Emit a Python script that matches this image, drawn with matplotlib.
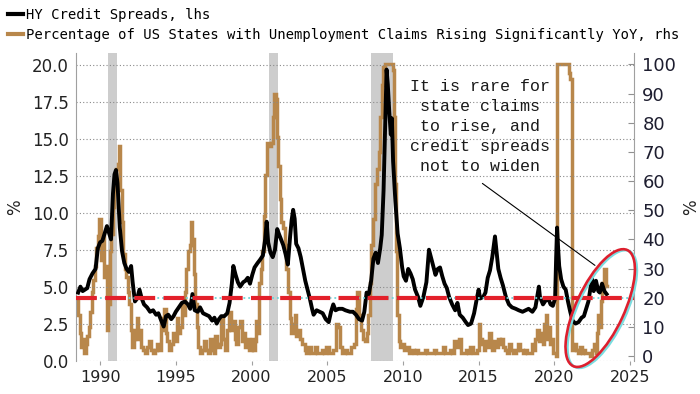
import matplotlib
matplotlib.use("Agg")
import matplotlib.pyplot as plt
import matplotlib.transforms as mtransforms
from matplotlib.patches import Ellipse
from matplotlib.ticker import FormatStrFormatter

# ---------------- data ----------------
hy_years = [1988.55, 1988.7, 1988.85, 1989.0, 1989.15, 1989.3, 1989.5, 1989.7, 1989.85, 1990.0,
            1990.15, 1990.3, 1990.45, 1990.6, 1990.72, 1990.85, 1990.95, 1991.05, 1991.15, 1991.3,
            1991.45, 1991.6, 1991.75, 1991.9, 1992.05, 1992.15, 1992.3, 1992.45, 1992.6, 1992.75,
            1992.9, 1993.1, 1993.3, 1993.5, 1993.7, 1993.85, 1994.0, 1994.2, 1994.35, 1994.5,
            1994.7, 1994.85, 1995.0, 1995.2, 1995.4, 1995.6, 1995.8, 1995.95, 1996.1, 1996.25,
            1996.45, 1996.6, 1996.8, 1997.0, 1997.2, 1997.4, 1997.55, 1997.7, 1997.85, 1998.0,
            1998.2, 1998.4, 1998.55, 1998.7, 1998.8, 1998.95, 1999.1, 1999.25, 1999.45, 1999.6,
            1999.75, 1999.9, 2000.05, 2000.2, 2000.4, 2000.55, 2000.75, 2000.9, 2001.0, 2001.1,
            2001.25, 2001.4, 2001.55, 2001.7, 2001.8, 2001.95, 2002.1, 2002.25, 2002.4, 2002.55,
            2002.65, 2002.75, 2002.85, 2002.95, 2003.1, 2003.25, 2003.4, 2003.55, 2003.7, 2003.85,
            2004.0, 2004.1, 2004.3, 2004.5, 2004.7, 2004.9, 2005.1, 2005.25, 2005.4, 2005.55,
            2005.75, 2006.0, 2006.2, 2006.5, 2006.7, 2006.9, 2007.1, 2007.3, 2007.45, 2007.6,
            2007.75, 2007.9, 2008.05, 2008.2, 2008.35, 2008.5, 2008.6, 2008.72, 2008.82, 2008.92,
            2009.0, 2009.1, 2009.2, 2009.27, 2009.35, 2009.5, 2009.65, 2009.8, 2009.95, 2010.05,
            2010.2, 2010.35, 2010.5, 2010.65, 2010.8, 2011.0, 2011.15, 2011.35, 2011.55, 2011.72,
            2011.85, 2012.0, 2012.15, 2012.3, 2012.45, 2012.6, 2012.75, 2012.9, 2013.05, 2013.25,
            2013.45, 2013.6, 2013.75, 2013.95, 2014.15, 2014.3, 2014.5, 2014.7, 2014.9, 2015.0,
            2015.1, 2015.3, 2015.45, 2015.6, 2015.75, 2015.9, 2016.0, 2016.08, 2016.17, 2016.3,
            2016.45, 2016.6, 2016.8, 2017.0, 2017.2, 2017.45, 2017.65, 2017.9, 2018.1, 2018.3,
            2018.55, 2018.75, 2018.9, 2018.98, 2019.05, 2019.25, 2019.45, 2019.6, 2019.75, 2019.9,
            2020.05, 2020.12, 2020.18, 2020.25, 2020.32, 2020.45, 2020.6, 2020.75, 2020.9, 2021.05,
            2021.2, 2021.4, 2021.6, 2021.8, 2021.95, 2022.1, 2022.25, 2022.4, 2022.5, 2022.6,
            2022.75, 2022.9, 2023.0, 2023.15, 2023.3, 2023.45]
hy_vals = [4.6, 5.0, 4.7, 4.8, 4.9, 5.5, 5.9, 6.2, 7.6, 8.0,
           8.1, 8.6, 9.1, 8.6, 8.2, 11.3, 12.6, 12.9, 12.0, 9.0,
           7.4, 6.6, 6.2, 6.0, 6.4, 5.3, 4.0, 4.2, 4.8, 4.2,
           3.8, 3.6, 3.3, 3.4, 3.1, 3.2, 2.8, 2.3, 3.0, 3.1,
           2.8, 3.0, 3.3, 3.6, 3.9, 4.0, 3.8, 3.5, 4.5, 3.4,
           3.3, 3.6, 3.2, 3.1, 3.0, 2.7, 2.9, 2.5, 2.8, 3.0,
           3.0, 3.2, 3.9, 5.2, 6.4, 5.8, 5.3, 5.0, 5.3, 5.4,
           5.6, 5.2, 5.8, 6.3, 6.6, 6.8, 7.1, 8.2, 9.4, 8.0,
           7.3, 7.0, 7.5, 8.9, 8.6, 8.2, 7.8, 7.2, 6.5, 8.4,
           9.5, 10.2, 9.6, 7.9, 7.6, 7.0, 6.2, 5.4, 4.8, 4.2,
           3.5, 3.1, 3.4, 3.3, 3.2, 2.8, 2.6, 3.3, 3.8, 3.4,
           3.5, 3.5, 3.4, 3.3, 3.3, 3.1, 2.8, 2.7, 3.3, 4.6,
           4.5, 5.4, 6.9, 7.3, 6.6, 7.6, 8.5, 11.5, 15.5, 19.7,
           18.7, 16.8, 15.3, 16.4, 13.5, 10.8, 8.6, 7.6, 6.3, 5.7,
           5.4, 6.2, 5.9, 5.5, 4.8, 4.3, 3.7, 4.3, 5.3, 7.5,
           7.0, 6.4, 5.8, 6.2, 6.3, 5.7, 5.2, 4.9, 4.3, 3.8,
           3.4, 3.9, 3.1, 2.9, 2.6, 2.4, 2.5, 3.2, 4.3, 4.8,
           4.2, 4.3, 4.6, 5.6, 6.1, 7.0, 7.8, 8.4, 7.5, 6.2,
           5.6, 5.1, 4.3, 3.8, 3.6, 3.5, 3.4, 3.3, 3.4, 3.5,
           3.3, 3.6, 4.5, 5.0, 4.3, 3.8, 4.1, 4.2, 3.8, 3.7,
           4.2, 7.0, 9.0, 7.6, 6.4, 5.5, 5.0, 4.8, 4.0, 3.3,
           2.7, 2.5, 2.6, 2.9, 3.0, 3.5, 4.0, 5.0, 5.5, 4.7,
           5.4, 4.7, 4.6, 5.2, 4.7, 4.5]

us_years = [1988.45, 1988.55, 1988.65, 1988.75, 1988.85, 1988.95, 1989.05, 1989.15, 1989.25, 1989.35,
            1989.45, 1989.55, 1989.65, 1989.75, 1989.85, 1989.95, 1990.05, 1990.15, 1990.25, 1990.35,
            1990.45, 1990.55, 1990.65, 1990.75, 1990.85, 1990.95, 1991.05, 1991.15, 1991.25, 1991.33,
            1991.43, 1991.53, 1991.63, 1991.73, 1991.83, 1991.93, 1992.03, 1992.13, 1992.23, 1992.33,
            1992.43, 1992.53, 1992.63, 1992.73, 1992.85, 1992.97, 1993.1, 1993.22, 1993.35, 1993.5,
            1993.62, 1993.75, 1993.87, 1994.0, 1994.1, 1994.2, 1994.32, 1994.42, 1994.55, 1994.7,
            1994.82, 1994.95, 1995.05, 1995.17, 1995.3, 1995.4, 1995.5, 1995.6, 1995.7, 1995.8,
            1995.92, 1996.02, 1996.1, 1996.18, 1996.28, 1996.38, 1996.48, 1996.6, 1996.72, 1996.85,
            1996.97, 1997.1, 1997.25, 1997.37, 1997.5, 1997.62, 1997.75, 1997.9, 1998.0, 1998.12,
            1998.25, 1998.35, 1998.5, 1998.62, 1998.75, 1998.88, 1999.0, 1999.12, 1999.22, 1999.35,
            1999.47, 1999.6, 1999.72, 1999.85, 2000.0, 2000.1, 2000.22, 2000.32, 2000.42, 2000.52,
            2000.62, 2000.72, 2000.82, 2000.92, 2001.02, 2001.15, 2001.27, 2001.4, 2001.5, 2001.6,
            2001.7, 2001.78, 2001.88, 2001.98, 2002.08, 2002.2, 2002.3, 2002.4, 2002.52, 2002.62,
            2002.75, 2002.87, 2002.97, 2003.1, 2003.22, 2003.35, 2003.5, 2003.62, 2003.75, 2003.9,
            2004.05, 2004.2, 2004.35, 2004.5, 2004.65, 2004.8, 2004.95, 2005.1, 2005.25, 2005.4,
            2005.55, 2005.7, 2005.85, 2006.0, 2006.15, 2006.3, 2006.45, 2006.6, 2006.75, 2006.88,
            2006.98, 2007.1, 2007.22, 2007.35, 2007.5, 2007.62, 2007.72, 2007.82, 2007.92, 2008.05,
            2008.15, 2008.28, 2008.4, 2008.5, 2008.6, 2008.7, 2008.8, 2009.32, 2009.4, 2009.48,
            2009.56, 2009.64, 2009.72, 2009.82, 2009.95, 2010.1, 2010.25, 2010.4, 2010.55, 2010.7,
            2010.85, 2011.0, 2011.15, 2011.3, 2011.45, 2011.6, 2011.75, 2011.9, 2012.05, 2012.2,
            2012.35, 2012.5, 2012.65, 2012.8, 2012.95, 2013.1, 2013.25, 2013.4, 2013.55, 2013.7,
            2013.85, 2014.0, 2014.15, 2014.3, 2014.45, 2014.6, 2014.75, 2014.9, 2015.0, 2015.1,
            2015.22, 2015.35, 2015.45, 2015.58, 2015.68, 2015.8, 2015.9, 2016.0, 2016.12, 2016.25,
            2016.38, 2016.5, 2016.62, 2016.75, 2016.88, 2017.0, 2017.15, 2017.3, 2017.45, 2017.6,
            2017.75, 2017.9, 2018.05, 2018.2, 2018.35, 2018.5, 2018.65, 2018.75, 2018.88, 2019.0,
            2019.12, 2019.22, 2019.32, 2019.42, 2019.52, 2019.62, 2019.72, 2019.82, 2019.92, 2020.08,
            2020.18, 2020.95, 2021.05, 2021.18, 2021.3, 2021.42, 2021.55, 2021.68, 2021.8, 2021.92,
            2022.05, 2022.2, 2022.35, 2022.5, 2022.62, 2022.72, 2022.8, 2022.9, 2023.0, 2023.08,
            2023.15, 2023.22, 2023.3, 2023.38, 2023.45]
us_vals = [20, 14, 8, 3, 6, 1, 4, 7, 10, 15,
           22, 26, 31, 37, 41, 47, 33, 42, 27, 31,
           9, 18, 36, 42, 51, 58, 64, 66, 72, 57,
           46, 35, 30, 27, 22, 18, 9, 3, 6, 9,
           13, 6, 9, 3, 2, 1, 3, 5, 2, 1,
           2, 4, 2, 13, 9, 16, 8, 5, 2, 4,
           8, 5, 13, 8, 10, 18, 14, 22, 30, 36,
           38, 46, 40, 28, 18, 10, 3, 1, 2, 5,
           2, 1, 6, 2, 1, 7, 3, 4, 13, 6,
           2, 9, 15, 9, 12, 6, 4, 10, 12, 5,
           8, 3, 6, 2, 6, 2, 5, 12, 8, 25,
           30, 36, 48, 62, 73, 72, 73, 82, 90, 88,
           75, 65, 54, 46, 44, 38, 30, 22, 13, 8,
           11, 14, 7, 9, 6, 4, 2, 1, 3, 1,
           1, 3, 1, 1, 2, 1, 3, 1, 1, 2,
           11, 10, 3, 1, 2, 1, 1, 3, 4, 16,
           22, 14, 9, 6, 5, 8, 14, 25, 38, 47,
           59, 64, 70, 82, 93, 99, 100, 98, 82, 59,
           36, 14, 5, 3, 4, 2, 3, 1, 2, 1,
           2, 1, 1, 1, 2, 1, 1, 1, 2, 1,
           1, 1, 3, 1, 1, 2, 1, 5, 3, 6,
           1, 1, 2, 1, 3, 1, 1, 2, 11, 6,
           4, 2, 5, 3, 8, 4, 2, 5, 3, 6,
           4, 6, 3, 2, 1, 4, 2, 1, 2, 4,
           2, 1, 2, 1, 1, 4, 2, 6, 9, 5,
           8, 4, 11, 14, 6, 10, 4, 6, 1, 0,
           100, 97, 95, 2, 4, 2, 1, 3, 1, 2,
           1, 1, 0, 2, 4, 1, 8, 14, 10, 19,
           25, 22, 30, 24, 24]

recession_starts = [1990.5, 2001.17, 2007.92]
recession_ends = [1991.12, 2001.75, 2009.35]

threshold_lhs = 4.2
left_ticks = [0.0, 2.5, 5.0, 7.5, 10.0, 12.5, 15.0, 17.5, 20.0]
right_ticks = [0, 10, 20, 30, 40, 50, 60, 70, 80, 90, 100]
x_ticks = [1990, 1995, 2000, 2005, 2010, 2015, 2020, 2025]

label_hy = "HY Credit Spreads, lhs"
label_us = "Percentage of US States with Unemployment Claims Rising Significantly YoY, rhs"
note = "It is rare for\nstate claims\nto rise, and\ncredit spreads\nnot to widen"

# ---------------- figure ----------------
W, H, DPI = 7.0, 3.94, 100
fig = plt.figure(figsize=(W, H), dpi=DPI)
fig.patch.set_facecolor("white")

ax = fig.add_axes([0.1086, 0.085, 0.7971, 0.7805])
ax2 = ax.twinx()
ax.set_zorder(ax2.get_zorder() + 1)
ax.patch.set_visible(False)

TAN = "#B8874B"
for s, e in zip(recession_starts, recession_ends):
    ax2.axvspan(s, e, color="#CDCDCD", lw=0, zorder=0)

l_us, = ax2.plot(us_years, us_vals, drawstyle="steps-post", color=TAN, lw=2.5,
                 solid_joinstyle="miter", zorder=2)
l_hy, = ax.plot(hy_years, hy_vals, color="black", lw=2.8, zorder=3,
                solid_joinstyle="round")

# threshold line (cyan underlay + red dashes)
ax.axhline(threshold_lhs, color="#6FD3D8", lw=1.3, ls=":", zorder=4)
ax.axhline(threshold_lhs, color="#E3202A", lw=3.0, dashes=(5, 2), zorder=5)

ax.set_xlim(1988.41, 2025.26)
ax.set_ylim(0, 20.82)
ax2.set_ylim(-1.54, 103.9)

ax.set_yticks(left_ticks)
ax.yaxis.set_major_formatter(FormatStrFormatter("%.1f"))
ax2.set_yticks(right_ticks)
ax.set_xticks(x_ticks)

ax.grid(axis="y", color="#8A8A8A", ls=(0, (1, 2)), lw=0.8)
ax.grid(axis="x", visible=False)

for a in (ax, ax2):
    for sp in ("top", "bottom"):
        a.spines[sp].set_visible(False)
    a.spines["left"].set_color("#A0A0A0")
    a.spines["right"].set_color("#A0A0A0")
ax2.spines["left"].set_visible(False)
ax.spines["right"].set_visible(False)

ax.tick_params(axis="y", length=0, pad=5, labelsize=12, labelcolor="#222222")
ax.tick_params(axis="x", length=3, width=0.8, color="#A0A0A0", pad=4,
               labelsize=11.5, labelcolor="#222222", direction="out")
ax2.tick_params(axis="y", length=4, width=0.8, color="#909090", direction="in",
                pad=6, labelsize=13, labelcolor="#1E1E30")

ax.set_ylabel("%", fontsize=12, color="#222222", labelpad=6)
ax2.set_ylabel("%", fontsize=12, color="#222222", labelpad=4, rotation=90)

# annotation text and pointer
ax.text(2015.1, 15.85, note, ha="center", va="center", multialignment="center",
        family="Liberation Mono", fontsize=12, color="#1A1A1A", linespacing=1.42,
        zorder=6)
ax.annotate("", xy=(2022.83, 6.33), xytext=(2015.1, 12.1),
            arrowprops=dict(arrowstyle="-", lw=0.8, color="black"), zorder=6)

# highlight ellipse (size in inches, positioned in data coords)
cx, cy = 2023.03, 3.55
base = fig.dpi_scale_trans + mtransforms.ScaledTranslation(cx, cy, ax.transData)
shadow = Ellipse((0, 0), 1.28, 0.48, angle=65, fill=False, ec="#7ADDE0", lw=1.8,
                 transform=base + mtransforms.Affine2D().translate(2, -1),
                 clip_on=False, zorder=7)
ring = Ellipse((0, 0), 1.28, 0.48, angle=65, fill=False, ec="#DD1F2E", lw=1.9,
               transform=base, clip_on=False, zorder=8)
ax.add_artist(shadow)
ax.add_artist(ring)

# legend at top
leg = fig.legend(handles=[l_hy, l_us], labels=[label_hy, label_us],
                 loc="upper left", bbox_to_anchor=(0.0, 1.0), frameon=False,
                 prop={"family": "DejaVu Sans Mono", "size": 10},
                 handlelength=1.1, handletextpad=0.25, labelspacing=0.45,
                 borderaxespad=0.25, borderpad=0.3)
for h in leg.legend_handles:
    h.set_linewidth(3.0)

fig.savefig("out.png", dpi=DPI, facecolor="white")
